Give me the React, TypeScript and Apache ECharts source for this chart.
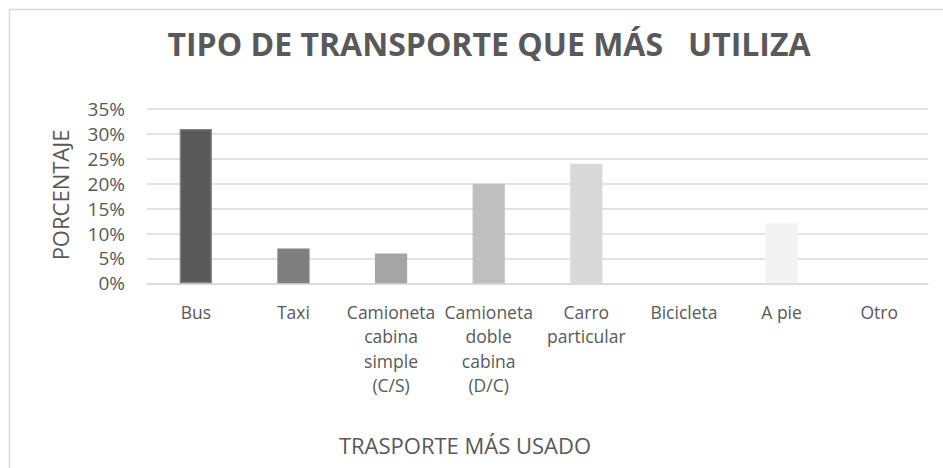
import React, { useEffect, useRef } from "react";
import * as echarts from "echarts";

const categories = [
  "Bus",
  "Taxi",
  "Camioneta\ncabina\nsimple\n(C/S)",
  "Camioneta\ndoble\ncabina\n(D/C)",
  "Carro\nparticular",
  "Bicicleta",
  "A pie",
  "Otro",
];
const values = [31, 7, 6, 20, 24, 0, 12, 0];
const barColors = ["#595959", "#7f7f7f", "#a5a5a5", "#bfbfbf", "#d9d9d9", "#e6e6e6", "#f2f2f2", "#f7f7f7"];
const titleText = "TIPO DE TRANSPORTE QUE MÁS   UTILIZA";
const xName = "TRASPORTE MÁS USADO";
const yName = "PORCENTAJE";

const FONT = "'Open Sans', 'Noto Sans', sans-serif";
const TXT = "#595959";

export default function App() {
  const ref = useRef<HTMLDivElement>(null);
  useEffect(() => {
    if (!ref.current) return;
    const chart = echarts.init(ref.current, null, { renderer: "svg" });
    chart.setOption({
      animation: false,
      backgroundColor: "#ffffff",
      textStyle: { fontFamily: FONT },
      grid: { left: 147, right: 15, top: 109, bottom: 184.7, containLabel: false },
      xAxis: {
        type: "category",
        data: categories,
        axisLine: { lineStyle: { color: "#d9d9d9", width: 1.5 } },
        axisTick: { show: false },
        axisLabel: {
          interval: 0,
          color: TXT,
          fontFamily: FONT,
          fontSize: 17.5,
          lineHeight: 24.5,
          margin: 16,
        },
      },
      yAxis: {
        type: "value",
        min: 0,
        max: 35,
        interval: 5,
        axisLine: { show: false },
        axisTick: { show: false },
        splitLine: { lineStyle: { color: "#d9d9d9", width: 1.5 } },
        axisLabel: {
          color: TXT,
          fontFamily: FONT,
          fontSize: 19,
          margin: 22,
          formatter: "{value}%",
        },
      },
      series: [
        {
          type: "bar",
          barWidth: "33%",
          data: values.map((v, i) => ({
            value: v,
            itemStyle: {
              color: barColors[i],
              borderColor: i === 0 ? "#7f7f7f" : barColors[i],
              borderWidth: i === 0 ? 1.5 : 0,
            },
          })),
        },
      ],
      graphic: [
        {
          type: "rect",
          shape: { x: 9.5, y: 9.5, width: 1000, height: 1000 },
          style: { fill: "none", stroke: "#d9d9d9", lineWidth: 1.5 },
          silent: true,
        },
        {
          type: "text",
          x: 489,
          y: 43,
          style: {
            text: titleText,
            fill: TXT,
            font: `bold 32px ${FONT}`,
            textAlign: "center",
            textVerticalAlign: "middle",
          },
        },
        {
          type: "text",
          x: 465,
          y: 445,
          style: {
            text: xName,
            fill: TXT,
            font: `22px ${FONT}`,
            textAlign: "center",
            textVerticalAlign: "middle",
          },
        },
        {
          type: "text",
          x: 60,
          y: 195,
          rotation: Math.PI / 2,
          style: {
            text: yName,
            fill: TXT,
            font: `22px ${FONT}`,
            textAlign: "center",
            textVerticalAlign: "middle",
          },
        },
      ],
    });
    return () => chart.dispose();
  }, []);
  return (
    <div
      ref={ref}
      style={{ position: "fixed", left: 0, top: 0, width: 943, height: 468 }}
    />
  );
}
